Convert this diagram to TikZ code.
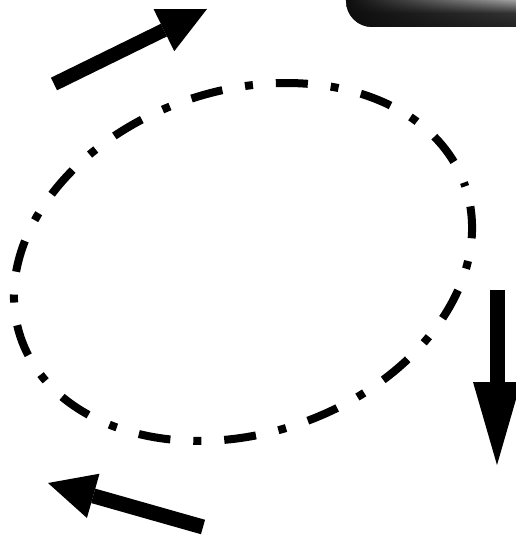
\documentclass[tikz,border=0pt]{standalone}
\usetikzlibrary{arrows.meta,fadings}
\tikzfading[name=darkleft, left color=transparent!0, right color=transparent!100]
\tikzset{
  bigarrow/.style={line width=#1, line cap=butt, draw=black},
  dashring/.style={line width=8pt, line cap=butt, draw=black,
    dash pattern=on 8pt off 23pt on 32pt off 23pt, dash phase=4pt}
}
\begin{document}
\begin{tikzpicture}[x=1pt,y=-1pt]
\useasboundingbox (0,0) rectangle (516,535);
\clip (0,0) rectangle (516,535);
% glossy bar at top right
\shade[top color=black!25, bottom color=black!85, middle color=black!78]
  (540,-1) -- (346,-1) -- (346,1) arc[start angle=180, end angle=270, radius=26pt] -- (540,27) -- cycle;
\fill[black!95, path fading=darkleft]
  (540,-1) -- (346,-1) -- (346,1) arc[start angle=180, end angle=270, radius=26pt] -- (540,27) -- cycle;
% dash-dot ellipse
\coordinate (c) at (243,262);
\draw[dashring, rotate around={18.8:(c)}] (c) ellipse [x radius=234.8pt, y radius=171.3pt];
% arrows
\coordinate (a1s) at (54,84);
\coordinate (a1e) at (207,9);
\coordinate (a2s) at (497,290);
\coordinate (a2e) at (497,465);
\coordinate (a3s) at (203,527);
\coordinate (a3e) at (48,483);
\draw[bigarrow=14pt, -{Triangle[length=48pt,width=47pt,line width=0pt]}] (a1s) -- (a1e);
\draw[bigarrow=15pt, -{Triangle[length=83pt,width=48pt,line width=0pt]}] (a2s) -- (a2e);
\draw[bigarrow=15pt, -{Triangle[length=47pt,width=46pt,line width=0pt]}] (a3s) -- (a3e);
\end{tikzpicture}
\end{document}
